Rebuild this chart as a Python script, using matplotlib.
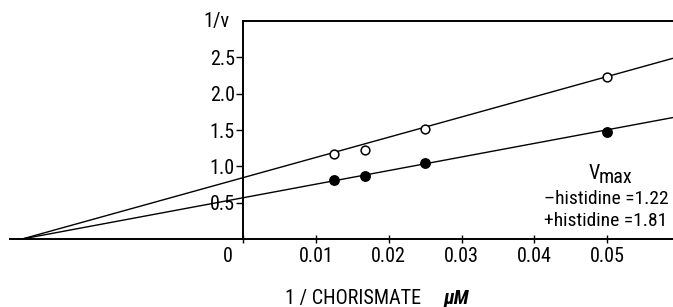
import matplotlib.pyplot as plt
from matplotlib.transforms import ScaledTranslation

# Lineweaver-Burk data
inv_chorismate = [0.0125, 0.0167, 0.025, 0.05]
inv_v_minus_his = [1.176, 1.23, 1.507, 2.224]   # open circles
inv_v_plus_his = [0.817, 0.873, 1.052, 1.479]   # filled circles

# fitted lines: y-intercepts (1/Vmax) and common x-intercept (-1/Km)
line_intercepts = [0.845, 0.568]
x_intercept = -0.0304

x_ticks = [0, 0.01, 0.02, 0.03, 0.04, 0.05]
x_ticklabels = ['0', '0.01', '0.02', '0.03', '0.04', '0.05']
y_ticks = [0.5, 1.0, 1.5, 2.0, 2.5]
y_ticklabels = ['0.5', '1.0', '1.5', '2.0', '2.5']

x_min, x_max = -0.03344, 0.05907
y_min, y_max = 0.0, 3.0

plt.rcParams['font.family'] = ['Roboto Condensed', 'DejaVu Sans']
fs = 14.5

fig = plt.figure(figsize=(6.73, 3.07), dpi=100)
ax = fig.add_axes([0, 68 / 307, 1, 218 / 307])
ax.set_xlim(x_min, x_max)
ax.set_ylim(y_min, y_max)

# fitted lines from the common x-intercept to the right edge
for b in line_intercepts:
    slope = -b / x_intercept
    ax.plot([x_intercept, x_max], [b + slope * x_intercept, b + slope * x_max],
            color='black', lw=1.0, solid_capstyle='butt')

ax.plot(inv_chorismate, inv_v_minus_his, 'o', ms=6.3, mfc='white', mec='black', mew=1.1)
ax.plot(inv_chorismate, inv_v_plus_his, 'o', ms=6.8, mfc='black', mec='black')

# axes frame like the original drawing
ax.spines['left'].set_position(('data', 0))
ax.spines['left'].set_bounds(0, y_max)
ax.spines['top'].set_bounds(0, x_max)
ax.spines['bottom'].set_bounds(-0.032, x_max)
ax.spines['right'].set_visible(False)
for s in ['left', 'top', 'bottom']:
    ax.spines[s].set_linewidth(1.4)

ax.set_xticks(x_ticks)
ax.set_xticklabels(x_ticklabels, fontsize=fs)
ax.set_yticks(y_ticks)
ax.set_yticklabels(y_ticklabels, fontsize=fs)
ax.tick_params(axis='x', direction='inout', length=6, width=1, pad=3)
ax.tick_params(axis='y', direction='out', length=5, width=1, pad=1)

# the "0" label sits to the left of the vertical axis
lab0 = ax.get_xticklabels()[0]
lab0.set_transform(lab0.get_transform() + ScaledTranslation(-15 / 100, 0, fig.dpi_scale_trans))

ax.text(-0.0037, 3.0, '1/v', fontsize=fs, ha='center', va='center')

# Vmax annotation
ax.text(0.0474, 0.831, 'V', fontsize=fs, va='baseline')
ax.text(0.0489, 0.776, 'max', fontsize=fs, va='baseline')
ax.text(0.0413, 0.486, '\u2013histidine =1.22', fontsize=14, va='baseline')
ax.text(0.0413, 0.183, '+histidine =1.81', fontsize=14, va='baseline')

# x-axis label
fig.text(285 / 673, 3 / 307, '1 / CHORISMATE', fontsize=fs, va='baseline')
fig.text(443 / 673, 3 / 307, '\u03bcM', fontsize=fs, va='baseline',
         style='italic', weight='bold')

fig.savefig('out.png', dpi=100)
